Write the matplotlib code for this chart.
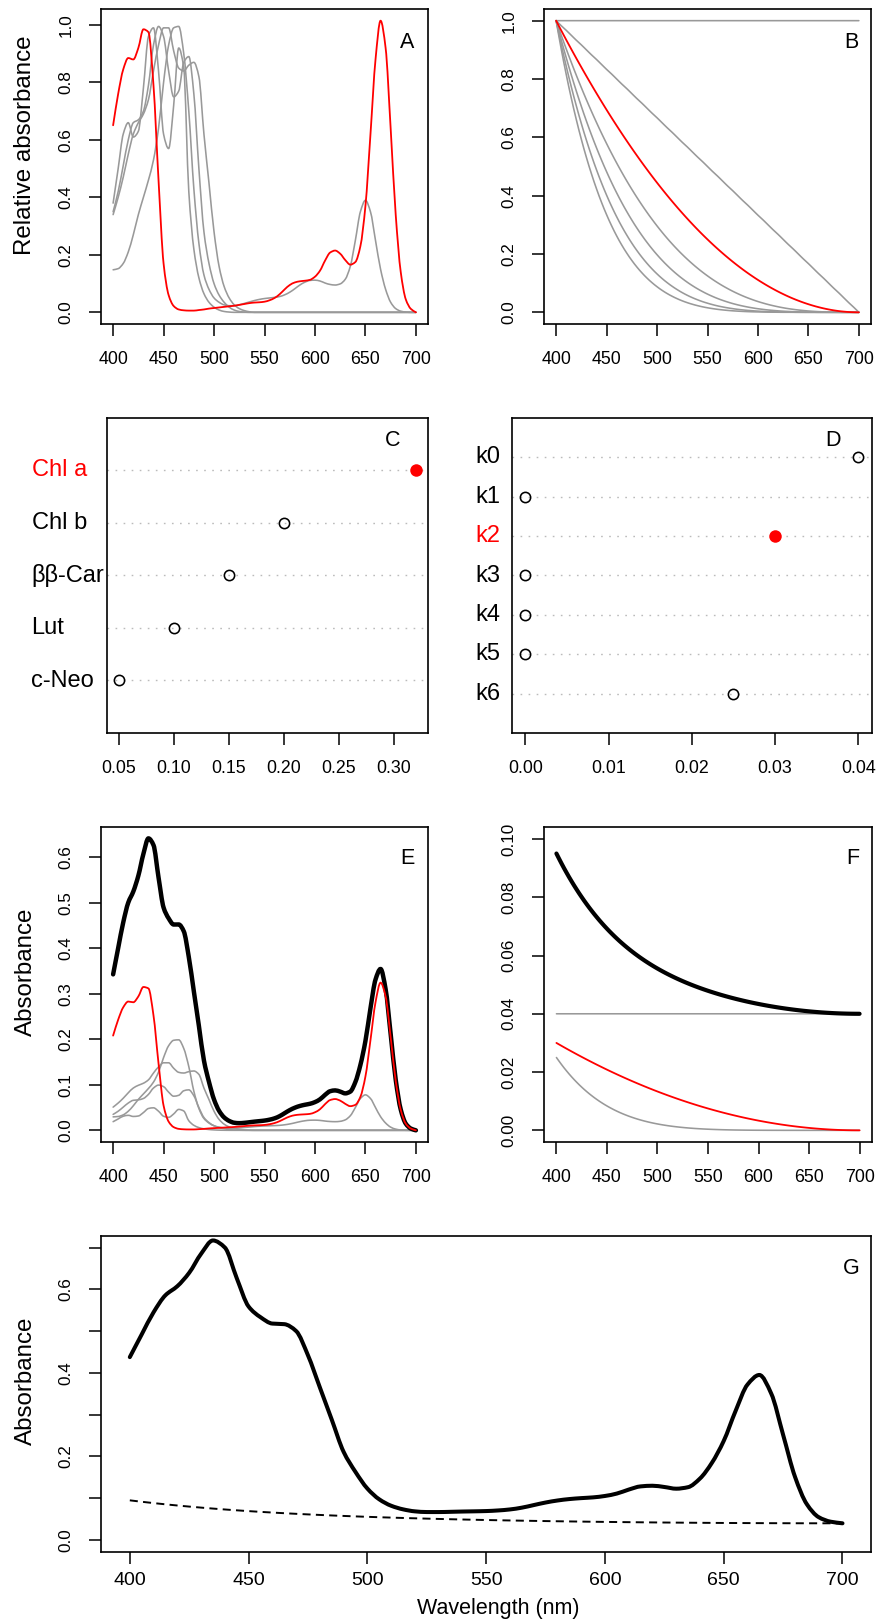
import numpy as np
import matplotlib
matplotlib.use("Agg")
import matplotlib.pyplot as plt
from matplotlib.path import Path
from matplotlib.patches import PathPatch
from matplotlib.transforms import blended_transform_factory

plt.rcParams['font.family'] = ['Liberation Sans', 'DejaVu Sans']
plt.rcParams['lines.scale_dashes'] = False

# ---------------------------------------------------------------- data
wavelength = np.arange(400, 701, 5)

# relative absorbance spectra of the pigments (max = 1)
chl_a = [0.651, 0.76, 0.845, 0.885, 0.88, 0.92, 0.985, 0.975, 0.79, 0.46,
         0.17, 0.06, 0.022, 0.01, 0.007, 0.006, 0.006, 0.008, 0.01, 0.013,
         0.015, 0.017, 0.019, 0.021, 0.023, 0.026, 0.029, 0.032, 0.034, 0.035,
         0.037, 0.042, 0.05, 0.063, 0.08, 0.095, 0.104, 0.108, 0.11, 0.113,
         0.124, 0.145, 0.18, 0.208, 0.215, 0.204, 0.182, 0.166, 0.175, 0.23,
         0.37, 0.62, 0.88, 1.015, 0.92, 0.64, 0.34, 0.14, 0.045, 0.012,
         0.0]
chl_b = [0.148, 0.152, 0.17, 0.21, 0.27, 0.34, 0.40, 0.46, 0.53, 0.64,
         0.80, 0.93, 0.99, 0.995, 0.90, 0.70, 0.43, 0.24, 0.13, 0.08,
         0.05, 0.035, 0.026, 0.023, 0.023, 0.026, 0.031, 0.036, 0.041, 0.045,
         0.048, 0.05, 0.052, 0.055, 0.061, 0.07, 0.082, 0.095, 0.105, 0.111,
         0.112, 0.109, 0.102, 0.097, 0.095, 0.099, 0.115, 0.16, 0.25, 0.35,
         0.39, 0.35, 0.25, 0.15, 0.08, 0.035, 0.013, 0.004, 0.001, 0.0,
         0.0]
bb_car = [0.34, 0.40, 0.47, 0.55, 0.62, 0.66, 0.69, 0.74, 0.84, 0.93,
          0.99, 0.99, 0.91, 0.85, 0.84, 0.86, 0.87, 0.82, 0.62, 0.45,
          0.28, 0.16, 0.09, 0.05, 0.026, 0.013, 0.006, 0.002] + [0.0] * 33
lut = [0.35, 0.42, 0.51, 0.60, 0.66, 0.67, 0.70, 0.79, 0.93, 0.995,
       0.96, 0.84, 0.75, 0.77, 0.87, 0.89, 0.76, 0.50, 0.28, 0.17,
       0.10, 0.06, 0.035, 0.018, 0.008, 0.003, 0.001] + [0.0] * 34
c_neo = [0.38, 0.50, 0.62, 0.66, 0.61, 0.63, 0.78, 0.96, 0.99, 0.84,
         0.62, 0.57, 0.72, 0.92, 0.85, 0.42, 0.22, 0.12, 0.065, 0.035,
         0.018, 0.008, 0.003, 0.001] + [0.0] * 37

pigment_names = ["Chl a", "Chl b", "ββ-Car", "Lut", "c-Neo"]
pigment_spectra = [chl_a, chl_b, bb_car, lut, c_neo]
pigment_weights = [0.32, 0.20, 0.15, 0.10, 0.05]
highlight_pigment = "Chl a"

# baseline shape functions (1 at 400 nm, 0 at 700 nm except k0)
base_k0 = [1.0] * 61
base_k1 = [1.0, 0.983, 0.967, 0.95, 0.933, 0.917, 0.9, 0.883, 0.867, 0.85,
           0.833, 0.817, 0.8, 0.783, 0.767, 0.75, 0.733, 0.717, 0.7, 0.683,
           0.667, 0.65, 0.633, 0.617, 0.6, 0.583, 0.567, 0.55, 0.533, 0.517,
           0.5, 0.483, 0.467, 0.45, 0.433, 0.417, 0.4, 0.383, 0.367, 0.35,
           0.333, 0.317, 0.3, 0.283, 0.267, 0.25, 0.233, 0.217, 0.2, 0.183,
           0.167, 0.15, 0.133, 0.117, 0.1, 0.083, 0.067, 0.05, 0.033, 0.017,
           0.0]
base_k2 = [1.0, 0.9669, 0.9344, 0.9025, 0.8711, 0.8403, 0.81, 0.7803, 0.7511, 0.7225,
           0.6944, 0.6669, 0.64, 0.6136, 0.5878, 0.5625, 0.5378, 0.5136, 0.49, 0.4669,
           0.4444, 0.4225, 0.4011, 0.3803, 0.36, 0.3403, 0.3211, 0.3025, 0.2844, 0.2669,
           0.25, 0.2336, 0.2178, 0.2025, 0.1878, 0.1736, 0.16, 0.1469, 0.1344, 0.1225,
           0.1111, 0.1003, 0.09, 0.0803, 0.0711, 0.0625, 0.0544, 0.0469, 0.04, 0.0336,
           0.0278, 0.0225, 0.0178, 0.0136, 0.01, 0.0069, 0.0044, 0.0025, 0.0011, 0.0003,
           0.0]
base_k3 = [1.0, 0.9508, 0.9033, 0.8574, 0.813, 0.7703, 0.729, 0.6893, 0.651, 0.6141,
           0.5787, 0.5447, 0.512, 0.4807, 0.4506, 0.4219, 0.3944, 0.3681, 0.343, 0.3191,
           0.2963, 0.2746, 0.254, 0.2345, 0.216, 0.1985, 0.182, 0.1664, 0.1517, 0.1379,
           0.125, 0.1129, 0.1016, 0.0911, 0.0814, 0.0723, 0.064, 0.0563, 0.0493, 0.0429,
           0.037, 0.0318, 0.027, 0.0228, 0.019, 0.0156, 0.0127, 0.0102, 0.008, 0.0062,
           0.0046, 0.0034, 0.0024, 0.0016, 0.001, 0.0006, 0.0003, 0.0001, 0.0, 0.0,
           0.0]
base_k4 = [1.0, 0.935, 0.8732, 0.8145, 0.7588, 0.7061, 0.6561, 0.6088, 0.5642, 0.522,
           0.4823, 0.4448, 0.4096, 0.3765, 0.3455, 0.3164, 0.2892, 0.2638, 0.2401, 0.218,
           0.1975, 0.1785, 0.1609, 0.1446, 0.1296, 0.1158, 0.1031, 0.0915, 0.0809, 0.0713,
           0.0625, 0.0546, 0.0474, 0.041, 0.0353, 0.0301, 0.0256, 0.0216, 0.0181, 0.015,
           0.0123, 0.0101, 0.0081, 0.0065, 0.0051, 0.0039, 0.003, 0.0022, 0.0016, 0.0011,
           0.0008, 0.0005, 0.0003, 0.0002, 0.0001] + [0.0] * 6
base_k5 = [1.0, 0.9194, 0.8441, 0.7738, 0.7083, 0.6472, 0.5905, 0.5378, 0.489, 0.4437,
           0.4019, 0.3633, 0.3277, 0.2949, 0.2649, 0.2373, 0.2121, 0.1891, 0.1681, 0.149,
           0.1317, 0.116, 0.1019, 0.0892, 0.0778, 0.0675, 0.0584, 0.0503, 0.0432, 0.0368,
           0.0313, 0.0264, 0.0221, 0.0185, 0.0153, 0.0126, 0.0102, 0.0083, 0.0066, 0.0053,
           0.0041, 0.0032, 0.0024, 0.0018, 0.0014, 0.001, 0.0007, 0.0005, 0.0003, 0.0002,
           0.0001, 0.0001] + [0.0] * 9
base_k6 = [1.0, 0.9041, 0.816, 0.7351, 0.661, 0.5933, 0.5314, 0.4751, 0.4238, 0.3771,
           0.3349, 0.2967, 0.2621, 0.231, 0.2031, 0.178, 0.1555, 0.1355, 0.1176, 0.1018,
           0.0878, 0.0754, 0.0645, 0.055, 0.0467, 0.0394, 0.0331, 0.0277, 0.023, 0.019,
           0.0156, 0.0128, 0.0103, 0.0083, 0.0066, 0.0052, 0.0041, 0.0032, 0.0024, 0.0018,
           0.0014, 0.001, 0.0007, 0.0005, 0.0004, 0.0002, 0.0002, 0.0001] + [0.0] * 13

baseline_names = ["k0", "k1", "k2", "k3", "k4", "k5", "k6"]
baseline_shapes = [base_k0, base_k1, base_k2, base_k3, base_k4, base_k5, base_k6]
baseline_weights = [0.04, 0.0, 0.03, 0.0, 0.0, 0.0, 0.025]
highlight_baseline = "k2"

wavelength_ticks = [400, 450, 500, 550, 600, 650, 700]

# ---------------------------------------------------------------- derived series
pig = np.array(pigment_spectra, dtype=float)
bas = np.array(baseline_shapes, dtype=float)
pig_w = np.array(pigment_weights)[:, None] * pig
bas_w = np.array(baseline_weights)[:, None] * bas
pigment_sum = pig_w.sum(axis=0)
baseline_sum = bas_w.sum(axis=0)
total = pigment_sum + baseline_sum

# ---------------------------------------------------------------- figure
W, H = 882, 1619
fig = plt.figure(figsize=(W / 100, H / 100), dpi=100)
GRAY = "#999999"
RED = "#FF0000"


def add_panel(left, top, right, bottom):
    return fig.add_axes([left / W, 1 - bottom / H, (right - left) / W, (bottom - top) / H])


def fig_text(x, y, s, **kw):
    fig.text(x / W, 1 - y / H, s, **kw)


def curve(ax, x, y, **kw):
    """Draw a spectrum as a smooth Bezier path passing through every tabulated point."""
    x = np.asarray(x, float)
    y = np.asarray(y, float)
    h = np.diff(x)
    d = np.diff(y) / h
    m = np.zeros_like(y)
    m[0], m[-1] = d[0], d[-1]
    for k in range(1, len(y) - 1):
        if d[k - 1] * d[k] > 0:
            w1 = 2 * h[k] + h[k - 1]
            w2 = h[k] + 2 * h[k - 1]
            m[k] = (w1 + w2) / (w1 / d[k - 1] + w2 / d[k])
    verts = [(x[0], y[0])]
    codes = [Path.MOVETO]
    for i in range(len(x) - 1):
        verts += [(x[i] + h[i] / 3, y[i] + m[i] * h[i] / 3),
                  (x[i + 1] - h[i] / 3, y[i + 1] - m[i + 1] * h[i] / 3),
                  (x[i + 1], y[i + 1])]
        codes += [Path.CURVE4] * 3
    kw.setdefault('capstyle', 'round')
    kw.setdefault('joinstyle', 'round')
    ax.add_patch(PathPatch(Path(verts, codes), fill=False, **kw))


def style(ax, yticks=None, ylabels=None, xfs=12.8, yfs=12.3, xpad=10.5):
    for sp in ax.spines.values():
        sp.set_linewidth(1.2)
    ax.tick_params(axis='both', direction='out', length=8.8, width=1.1, color='black')
    ax.tick_params(axis='x', pad=xpad, labelsize=xfs)
    if yticks is not None:
        ax.set_yticks(yticks)
        ax.set_yticklabels(ylabels)
        ax.tick_params(axis='y', pad=11.0, labelsize=yfs, labelrotation=90)
        for t in ax.get_yticklabels():
            t.set_verticalalignment('center')
    else:
        ax.set_yticks([])


def padded(lo, hi):
    d = 0.04 * (hi - lo)
    return lo - d, hi + d


def wl_axis(ax):
    ax.set_xlim(*padded(400, 700))
    ax.set_xticks(wavelength_ticks)
    ax.set_xticklabels([str(v) for v in wavelength_ticks])


# A: normalised pigment spectra
axA = add_panel(101, 9, 428, 324)
for name, spec in zip(pigment_names, pig):
    if name != highlight_pigment:
        curve(axA, wavelength, spec, edgecolor=GRAY, lw=1.15)
for name, spec in zip(pigment_names, pig):
    if name == highlight_pigment:
        curve(axA, wavelength, spec, edgecolor=RED, lw=1.3)
wl_axis(axA)
axA.set_ylim(*padded(0, pig.max()))
tk = [0.0, 0.2, 0.4, 0.6, 0.8, 1.0]
style(axA, tk, [f"{v:.1f}" for v in tk])

# B: baseline shape functions
axB = add_panel(544, 9, 871, 324)
for name, shp in zip(baseline_names, bas):
    if name != highlight_baseline:
        curve(axB, wavelength, shp, edgecolor=GRAY, lw=1.15)
for name, shp in zip(baseline_names, bas):
    if name == highlight_baseline:
        curve(axB, wavelength, shp, edgecolor=RED, lw=1.3)
wl_axis(axB)
axB.set_ylim(*padded(0, 1))
style(axB, tk, [f"{v:.1f}" for v in tk])


def dotchart(ax, names, values, highlight, label_x, ticks, fmt):
    n = len(names)
    rows = np.arange(n, 0, -1)
    ax.set_ylim(0, n + 1)
    ax.set_xlim(*padded(min(values), max(values)))
    for r in rows:
        ax.axhline(r, color="#BBBBBB", lw=1.0, ls=(0, (1.2, 4.6)), zorder=1)
    tr = blended_transform_factory(fig.transFigure, ax.transData)
    for name, v, r in zip(names, values, rows):
        if name == highlight:
            ax.plot(v, r, 'o', color=RED, ms=9.0, mew=0, zorder=3)
            col = RED
        else:
            ax.plot(v, r, 'o', mfc='none', mec='black', ms=7.4, mew=1.15, zorder=3)
            col = 'black'
        ax.text(label_x / W, r, name, transform=tr, ha='left', va='center',
                fontsize=17, color=col)
    ax.set_xticks(ticks)
    ax.set_xticklabels([fmt.format(t) for t in ticks])
    style(ax)


# C: pigment weights
axC = add_panel(107, 418, 428, 733)
dotchart(axC, pigment_names, pigment_weights, highlight_pigment, 31.5,
         [0.05, 0.10, 0.15, 0.20, 0.25, 0.30], "{:.2f}")

# D: baseline weights
axD = add_panel(512, 418, 871.7, 733)
dotchart(axD, baseline_names, baseline_weights, highlight_baseline, 475,
         [0.00, 0.01, 0.02, 0.03, 0.04], "{:.2f}")

# E: weighted pigment spectra and their sum
axE = add_panel(101, 826.7, 428, 1142)
for name, spec in zip(pigment_names, pig_w):
    if name != highlight_pigment:
        curve(axE, wavelength, spec, edgecolor=GRAY, lw=1.15)
curve(axE, wavelength, pigment_sum, edgecolor='black', lw=3.2)
for name, spec in zip(pigment_names, pig_w):
    if name == highlight_pigment:
        curve(axE, wavelength, spec, edgecolor=RED, lw=1.3)
wl_axis(axE)
axE.set_ylim(*padded(0, pigment_sum.max()))
tkE = [0.0, 0.1, 0.2, 0.3, 0.4, 0.5, 0.6]
style(axE, tkE, [f"{v:.1f}" for v in tkE])

# F: weighted baseline components and their sum
axF = add_panel(544.3, 827.3, 871.7, 1142)
for name, w, shp in zip(baseline_names, baseline_weights, bas_w):
    if w > 0 and name != highlight_baseline:
        curve(axF, wavelength, shp, edgecolor=GRAY, lw=1.15)
for name, w, shp in zip(baseline_names, baseline_weights, bas_w):
    if name == highlight_baseline:
        curve(axF, wavelength, shp, edgecolor=RED, lw=1.3)
curve(axF, wavelength, baseline_sum, edgecolor='black', lw=3.0)
wl_axis(axF)
axF.set_ylim(*padded(0, 0.10))
tkF = [0.00, 0.02, 0.04, 0.06, 0.08, 0.10]
style(axF, tkF, [f"{v:.2f}" for v in tkF])

# G: total spectrum with the baseline
axG = add_panel(101.3, 1236, 871, 1551.7)
curve(axG, wavelength, baseline_sum, edgecolor='black', lw=1.4,
      linestyle=(0, (5.8, 3.8)), capstyle='butt')
curve(axG, wavelength, total, edgecolor='black', lw=2.9)
wl_axis(axG)
axG.set_ylim(*padded(0, 0.70))
tkG = [0.0, 0.1, 0.2, 0.3, 0.4, 0.5, 0.6, 0.7]
style(axG, tkG, [f"{v:.1f}" if i % 2 == 0 else "" for i, v in enumerate(tkG)],
      xfs=14, xpad=6.0)

# panel letters
for x, y, s in [(407, 42, "A"), (851, 42, "B"), (393, 440, "C"), (833, 440, "D"),
                (407, 859, "E"), (852.5, 858, "F"), (851, 1268, "G")]:
    fig_text(x, y, s, fontsize=15.5, ha='center', va='center')

# axis titles
fig_text(25.5, 145, "Relative absorbance", rotation=90, fontsize=17.4, ha='center', va='center')
fig_text(25.5, 972, "Absorbance", rotation=90, fontsize=17.4, ha='center', va='center')
fig_text(25.5, 1381, "Absorbance", rotation=90, fontsize=17.4, ha='center', va='center')
fig_text(498, 1614, "Wavelength (nm)", fontsize=15.5, ha='center', va='baseline')

fig.savefig("out.png", dpi=100)
